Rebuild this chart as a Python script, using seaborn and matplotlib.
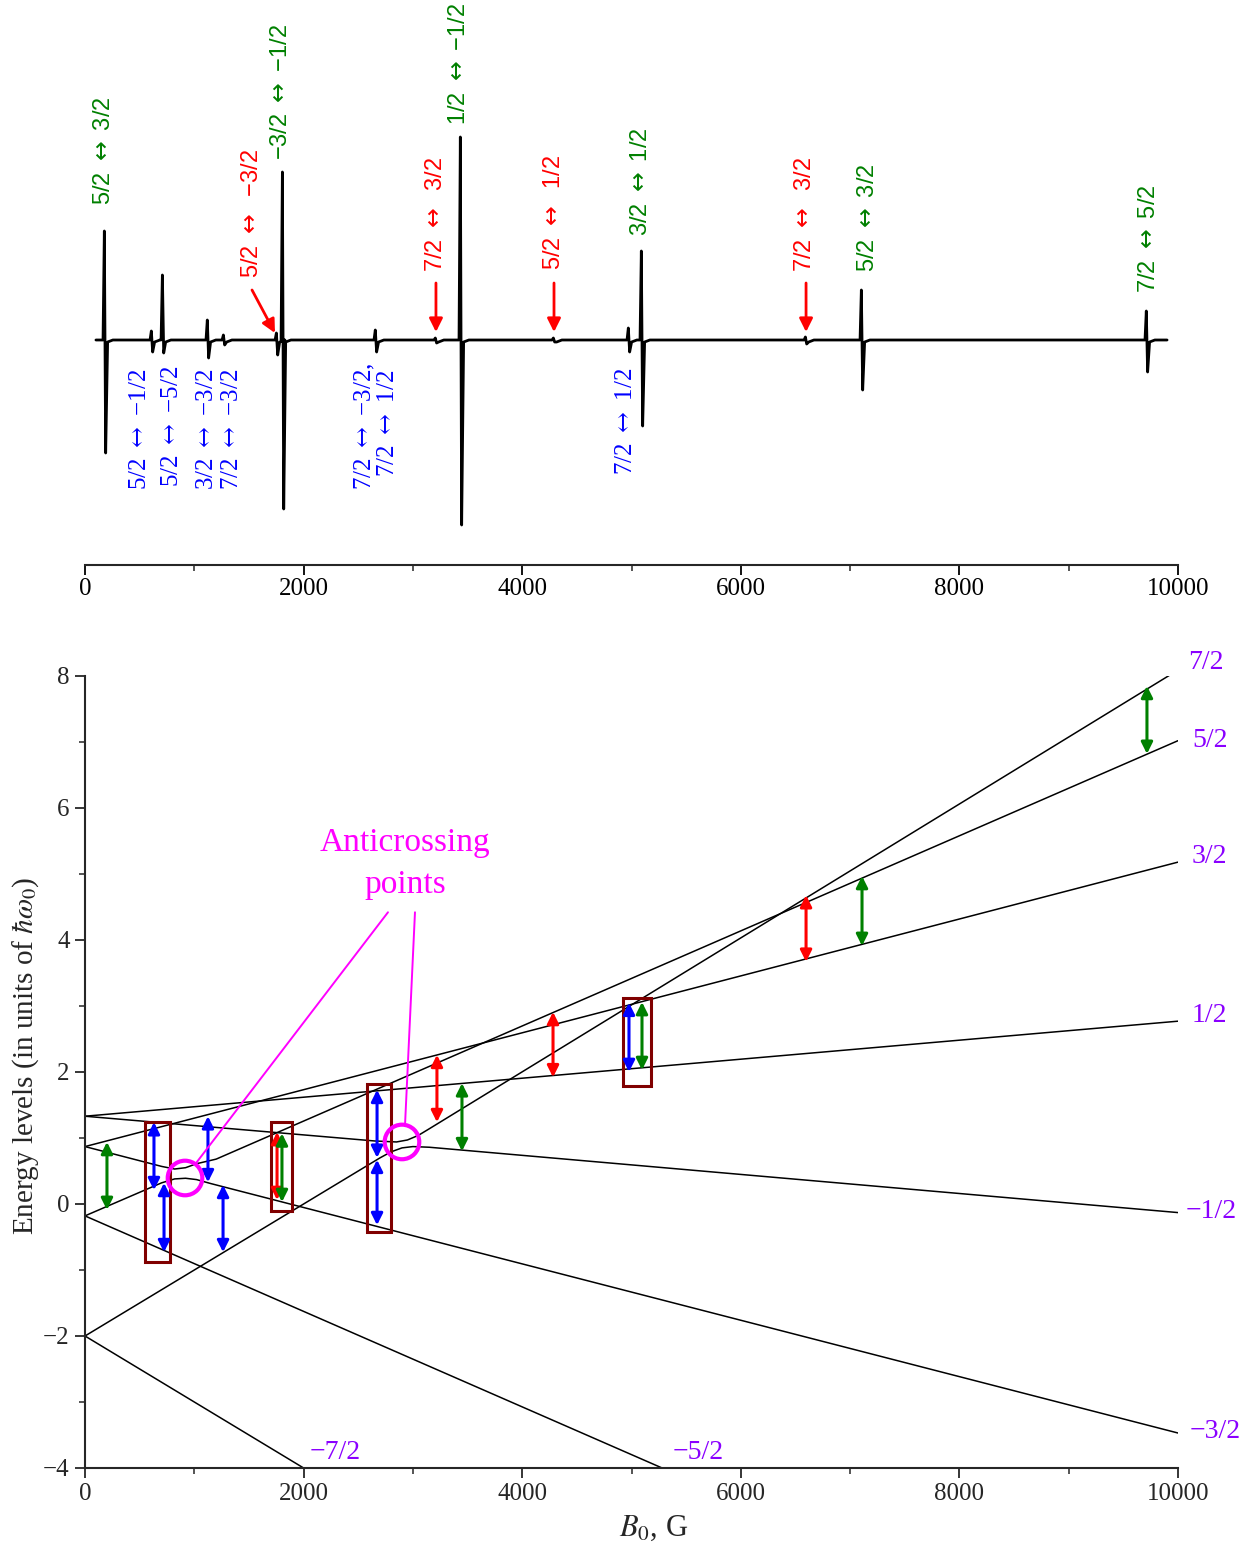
import numpy as np
import pandas as pd
import matplotlib
matplotlib.use("Agg")
import matplotlib.pyplot as plt
from matplotlib.ticker import MultipleLocator
from matplotlib.patches import Rectangle
import seaborn as sns

# ---------------- data ----------------
# EPR spectrum: resonance field (G), upward and downward excursion of each derivative line
line_field = [183, 613, 714, 1125, 1272, 1757, 1812, 2662, 3211, 3440, 4291, 4977, 5096, 6597, 7109, 9716]
line_up = [109, 9, 65, 20, 5, 7, 168, 10, 2, 203, 2, 12, 89, 3, 50, 29]
line_down = [113, 12, 13, 18, 5, 15, 169, 12, 3, 185, 2, 12, 86, 4, 50, 32]
sweep_start, sweep_end = 100, 9900

ARR = r"$\leftrightarrow$"

# transition labels above the spectrum (allowed, green)
allowed_text = ["5/2 {} 3/2", "−3/2 {} −1/2", "1/2 {} −1/2", "3/2 {} 1/2", "5/2 {} 3/2", "7/2 {} 5/2"]
allowed_B = [174, 1793, 3422, 5087, 7164, 9735]
allowed_y = [135, 180, 215, 104, 68, 47]

# double-quantum transitions (red) with pointer arrows
dq_text = ["5/2 {}  −3/2", "7/2 {}  3/2", "5/2 {}  1/2", "7/2 {}  3/2"]
dq_B = [1528, 3211, 4291, 6587]
dq_y = [62, 68, 70, 68]
dq_arrow_from = [(1528, 50), (3211, 57), (4291, 57), (6597, 57)]
dq_arrow_to = [(1738, 7), (3211, 8), (4291, 8), (6597, 8)]

# forbidden transitions (blue) below the spectrum
forb_text = ["5/2 {} −1/2", "5/2 {} −5/2", "3/2 {} −3/2", "7/2 {} −3/2", "7/2 {} −3/2,", "7/2 {} 1/2", "7/2 {} 1/2"]
forb_B = [503, 796, 1116, 1345, 2562, 2772, 4950]
forb_y = [-28, -25, -28, -28, -22, -30, -28]

# energy levels: (B, E) vertices of each level
level_names = ["7/2", "5/2", "3/2", "1/2", "-1/2", "-3/2", "-5/2", "-7/2"]
level_B = {
    "7/2": [0, 2650, 2850, 2950, 3050, 3150, 10000],
    "5/2": [0, 700, 820, 920, 1020, 1200, 10000],
    "3/2": [0, 10000],
    "1/2": [0, 10000],
    "-1/2": [0, 2700, 2800, 2900, 3000, 3150, 10000],
    "-3/2": [0, 700, 820, 920, 1020, 1150, 10000],
    "-5/2": [0, 5280],
    "-7/2": [0, 2000],
}
level_E = {
    "7/2": [1.33, 0.955, 0.94, 0.97, 1.04, 1.14, 8.09],
    "5/2": [0.87, 0.57, 0.53, 0.55, 0.61, 0.68, 7.02],
    "3/2": [0.87, 5.18],
    "1/2": [1.33, 2.77],
    "-1/2": [-2.0, 0.70, 0.79, 0.85, 0.87, 0.86, -0.13],
    "-3/2": [-0.18, 0.32, 0.38, 0.39, 0.37, 0.31, -3.47],
    "-5/2": [-0.18, -4.0],
    "-7/2": [-2.0, -4.0],
}

# level labels
lab_text = ["7/2", "5/2", "3/2", "1/2", "−1/2", "−3/2", "−7/2", "−5/2"]
lab_B = [10091, 10128, 10128, 10128, 10073, 10110, 2059, 5380]
lab_E = [8.21, 7.03, 5.26, 2.85, -0.11, -3.45, -3.76, -3.76]

# transitions drawn on the level diagram: field, lower E, upper E, colour
tr_B = [201, 631, 723, 1125, 1263, 1757, 1802, 2672, 2672, 3220, 3449, 4282, 4977, 5096, 6597, 7109, 9716]
tr_lo = [-0.09, 0.21, -0.73, 0.33, -0.73, 0.06, 0.03, 0.70, -0.32, 1.24, 0.80, 1.92, 2.00, 2.03, 3.67, 3.91, 6.82]
tr_hi = [0.94, 1.24, 0.32, 1.33, 0.29, 1.09, 1.07, 1.73, 0.67, 2.26, 1.83, 2.91, 3.05, 3.06, 4.68, 4.97, 7.85]
tr_kind = ["g", "b", "b", "b", "b", "r", "g", "b", "b", "r", "g", "r", "b", "g", "r", "g", "g"]

# boxes around groups of transitions: B0, B1, E0, E1
box_B0 = [549, 1702, 2580, 4922]
box_B1 = [778, 1894, 2800, 5178]
box_E0 = [-0.88, -0.11, -0.42, 1.79]
box_E1 = [1.24, 1.24, 1.82, 3.12]

# anticrossing markers
ac_B = [915, 2900]
ac_E = [0.394, 0.94]
ac_line_from = [(2772, 4.42), (3019, 4.42)]
ac_line_to = [(1016, 0.62), (2928, 1.20)]

GREEN, RED, BLUE = "#008000", "#ff0000", "#0000ff"
MAGENTA, PURPLE, BOXC = "#ff00ff", "#8a00ff", "#800000"
kind_color = {"g": GREEN, "r": RED, "b": BLUE}

# ---------------- style ----------------
sns.set_theme(style="ticks")
plt.rcParams["font.family"] = ["Liberation Serif", "DejaVu Serif"]
plt.rcParams["mathtext.fontset"] = "stix"
SANS = ["Liberation Sans Narrow", "Liberation Sans", "DejaVu Sans"]
SERIF = ["Liberation Serif", "DejaVu Serif"]

fig = plt.figure(figsize=(12.54, 15.58), dpi=100)
ax1 = fig.add_axes([85 / 1254, 1 - 565 / 1558, 1093 / 1254, 565 / 1558])
ax2 = fig.add_axes([85 / 1254, 1 - 1468 / 1558, 1093 / 1254, 792 / 1558])

# ---------------- spectrum ----------------
w = 6
spec_B, spec_S = [sweep_start], [0]
for b, up, dn in zip(line_field, line_up, line_down):
    spec_B += [b - 3 * w, b - w, b + w, b + 4 * w, b + 12 * w]
    spec_S += [0, up, -dn, -2, 0]
spec_B.append(sweep_end)
spec_S.append(0)
spec = pd.DataFrame({"B": spec_B, "S": spec_S})
sns.lineplot(data=spec, x="B", y="S", sort=False, estimator=None, color="black", lw=2.0, ax=ax1)

ax1.set_xlim(0, 10000)
ax1.set_ylim(-225, 340)
for s in ["top", "right", "left"]:
    ax1.spines[s].set_visible(False)
ax1.spines["bottom"].set_linewidth(1.5)
ax1.set_yticks([])
ax1.set_xlabel("")
ax1.set_ylabel("")
ax1.xaxis.set_major_locator(MultipleLocator(2000))
ax1.xaxis.set_minor_locator(MultipleLocator(1000))
ax1.tick_params(axis="x", which="major", direction="out", length=7, width=1.3, labelsize=18, pad=2, colors="black")
ax1.tick_params(axis="x", which="minor", direction="out", length=4, width=1.1)

for t, b, y in zip(allowed_text, allowed_B, allowed_y):
    ax1.text(b, y, t.format(ARR), rotation=90, ha="center", va="bottom", color=GREEN, fontsize=17,
             family=SANS, math_fontfamily="dejavusans")
for t, b, y in zip(dq_text, dq_B, dq_y):
    ax1.text(b, y, t.format(ARR), rotation=90, ha="center", va="bottom", color=RED, fontsize=17,
             family=SANS, math_fontfamily="dejavusans")
for p0, p1 in zip(dq_arrow_from, dq_arrow_to):
    ax1.annotate("", xy=p1, xytext=p0,
                 arrowprops=dict(arrowstyle="-|>", color=RED, lw=2, mutation_scale=20, shrinkA=0, shrinkB=0))
for t, b, y in zip(forb_text, forb_B, forb_y):
    ax1.text(b, y, t.format(ARR), rotation=90, ha="center", va="top", color=BLUE, fontsize=18,
             family=SERIF, math_fontfamily="dejavuserif")

# ---------------- energy levels ----------------
rows = []
for name in level_names:
    for b, e in zip(level_B[name], level_E[name]):
        rows.append((name, b, e))
levels = pd.DataFrame(rows, columns=["level", "B", "E"])
sns.lineplot(data=levels, x="B", y="E", units="level", sort=False, estimator=None,
             color="black", lw=1.1, ax=ax2)

ax2.set_xlim(0, 10000)
ax2.set_ylim(-4, 8)
for s in ["top", "right"]:
    ax2.spines[s].set_visible(False)
for s in ["left", "bottom"]:
    ax2.spines[s].set_linewidth(1.5)
ax2.xaxis.set_major_locator(MultipleLocator(2000))
ax2.xaxis.set_minor_locator(MultipleLocator(1000))
ax2.yaxis.set_major_locator(MultipleLocator(2))
ax2.yaxis.set_minor_locator(MultipleLocator(1))
ax2.tick_params(which="major", direction="out", length=7, width=1.3, labelsize=18, pad=4)
ax2.tick_params(which="minor", direction="out", length=4, width=1.1)

for b0, b1, e0, e1 in zip(box_B0, box_B1, box_E0, box_E1):
    ax2.add_patch(Rectangle((b0, e0), b1 - b0, e1 - e0, fill=False, edgecolor=BOXC, lw=2.2, zorder=4))

for b, lo, hi, k in zip(tr_B, tr_lo, tr_hi, tr_kind):
    ax2.annotate("", xy=(b, hi), xytext=(b, lo),
                 arrowprops=dict(arrowstyle="<|-|>", color=kind_color[k], lw=2.2,
                                 mutation_scale=17, shrinkA=0, shrinkB=0), zorder=5)

for p0, p1 in zip(ac_line_from, ac_line_to):
    ax2.plot([p0[0], p1[0]], [p0[1], p1[1]], color=MAGENTA, lw=1.4, zorder=6)
sns.scatterplot(x=ac_B, y=ac_E, ax=ax2, s=620, facecolor="none", edgecolor=MAGENTA,
                linewidth=3, zorder=7, legend=False)
ax2.text(2928, 5.48, "Anticrossing", ha="center", va="center", color=MAGENTA, fontsize=24, family=SERIF)
ax2.text(2928, 4.83, "points", ha="center", va="center", color=MAGENTA, fontsize=24, family=SERIF)

for t, b, e in zip(lab_text, lab_B, lab_E):
    ax2.text(b, e, t, ha="left", va="center", color=PURPLE, fontsize=20, family=SERIF, clip_on=False)

ax2.set_xlabel(r"$B_0$, G", fontsize=22)
ax2.set_ylabel(r"Energy levels (in units of $\hbar\omega_0$)", fontsize=21)
ax2.xaxis.set_label_coords(0.52, -0.058)
ax2.yaxis.set_label_coords(-0.04, 0.52)

fig.savefig("out.png", dpi=100)
